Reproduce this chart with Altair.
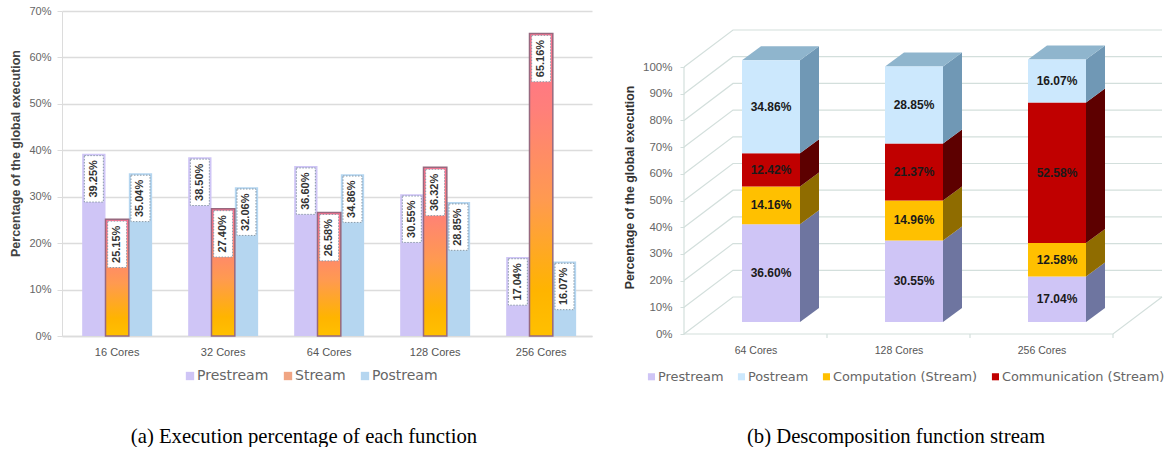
import altair as alt
import pandas as pd

# Panel (a): share of each function per core count
cores_a = ["16 Cores", "32 Cores", "64 Cores", "128 Cores", "256 Cores"]
functions = ["Prestream", "Stream", "Postream"]
prestream = [39.25, 38.50, 36.60, 30.55, 17.04]
stream = [25.15, 27.40, 26.58, 36.32, 65.16]
postream = [35.04, 32.06, 34.86, 28.85, 16.07]

# Panel (b): stream split into computation and communication
cores_b = ["64 Cores", "128 Cores", "256 Cores"]
parts = ["Prestream", "Postream", "Computation (Stream)", "Communication (Stream)"]
stack_order = ["Prestream", "Computation (Stream)", "Communication (Stream)", "Postream"]
stack_values = {
    "Prestream": [36.60, 30.55, 17.04],
    "Computation (Stream)": [14.16, 14.96, 12.58],
    "Communication (Stream)": [12.42, 21.37, 52.58],
    "Postream": [34.86, 28.85, 16.07],
}
front_colors = {"Prestream": "#cfc5f6", "Postream": "#cce8fd",
                "Computation (Stream)": "#ffc000", "Communication (Stream)": "#c00000"}
side_colors = {"Prestream": "#6e75a0", "Postream": "#7098b5",
               "Computation (Stream)": "#8f6c00", "Communication (Stream)": "#5d0000"}
TOP_COLOR = "#8fb5cd"

GREY = "#666666"
GRID = "#dcdcdc"
WALL = "#d3dfdc"
SANS = "Liberation Sans"
SERIF = "Liberation Serif"
Y_TITLE = "Percentage of the global execution"

# ---------- panel (a) ----------
rows = []
for series, values in zip(functions, [prestream, stream, postream]):
    for core, v in zip(cores_a, values):
        rows.append({"core": core, "series": series, "value": v,
                     "label": f"{v:.2f}%", "box_top": v - 0.4, "box_bottom": v - 10.4,
                     "box_mid": v - 5.4})
df_a = pd.DataFrame(rows)

x_a = alt.X("core:N", sort=cores_a, title=None,
            scale=alt.Scale(paddingInner=0.34, paddingOuter=0.17, align=0.56),
            axis=alt.Axis(labelAngle=0, labelFont=SANS, labelFontSize=11, labelColor="#555555",
                          tickSize=0, domainColor=GRID, domainWidth=1.5, labelPadding=10))
x_off = alt.XOffset("series:N", sort=functions, scale=alt.Scale(domain=functions))
y_a = alt.Y("value:Q", title=Y_TITLE,
            scale=alt.Scale(domain=[0, 70]),
            axis=alt.Axis(values=list(range(0, 71, 10)), labelExpr="datum.value + '%'",
                          labelFont=SANS, labelFontSize=11, labelColor=GREY,
                          gridColor=GRID, gridWidth=1.5, domainColor=GRID, tickColor=GRID,
                          tickSize=5, labelPadding=6,
                          titleFont=SANS, titleFontSize=12.5, titleColor="#444444", titleFontWeight="bold",
                          titleY=142, titlePadding=6))

bars = alt.Chart(df_a).mark_bar().encode(
    x=x_a, xOffset=x_off, y=y_a,
    color=alt.Color("series:N", sort=functions,
                    scale=alt.Scale(domain=functions, range=["#cfc5f6", "#f0a583", "#b5d6f0"]),
                    legend=alt.Legend(title=None, orient="none", legendX=121, legendY=358,
                                      direction="horizontal", symbolType="square", symbolSize=70,
                                      labelFont="DejaVu Sans", labelFontSize=14, labelColor=GREY,
                                      columnPadding=12, labelOffset=0)),
)
stream_gradient = alt.Gradient(
    gradient="linear", x1=0, x2=0, y1=1, y2=0,
    stops=[alt.GradientStop(color="#ffc000", offset=0),
           alt.GradientStop(color="#ffb400", offset=0.15),
           alt.GradientStop(color="#ff9a50", offset=0.45),
           alt.GradientStop(color="#ff7f7a", offset=0.75),
           alt.GradientStop(color="#ff7090", offset=1)])
stream_bars = alt.Chart(df_a[df_a.series == "Stream"]).mark_bar(
    color=stream_gradient, stroke="#97697f", strokeWidth=1.5).encode(x=x_a, xOffset=x_off, y=y_a)
boxes = alt.Chart(df_a).mark_bar(size=19, fill="white", stroke="#8a9aa8", strokeWidth=1,
                                 strokeDash=[1.5, 1.5]).encode(
    x=x_a, xOffset=x_off, y=alt.Y("box_top:Q"), y2="box_bottom:Q")
labels = alt.Chart(df_a).mark_text(angle=270, font=SANS, fontSize=11, fontWeight="bold",
                                   color="#333333").encode(
    x=x_a, xOffset=x_off, y=alt.Y("box_mid:Q"), text="label:N")

panel_a = alt.layer(bars, stream_bars, boxes, labels).properties(
    width=530, height=325,
    title=alt.TitleParams("(a) Execution percentage of each function", orient="bottom",
                          font=SERIF, fontSize=20.7, fontWeight="normal", color="black",
                          anchor="middle", dx=-23, offset=44))

# ---------- panel (b): drawn as sheared faces on two linear scales ----------
PX_PER_PCT = 2.67
BAND = 143
BAR_W = 58
SHIFT_X, SHIFT_Y = 15.5, 12 / PX_PER_PCT
DEPTH_X, DEPTH_Y = 19, 14 / PX_PER_PCT
WALL_X, WALL_Y = 49, 37 / PX_PER_PCT
FLOOR_W = 3 * BAND
PANEL_W = FLOOR_W + WALL_X
PANEL_H = 323
TOP_PCT = PANEL_H / PX_PER_PCT

front, sides, tops = [], [], []
for i, core in enumerate(cores_b):
    left = (i + 0.5) * BAND - BAR_W / 2 + SHIFT_X
    right = left + BAR_W
    base = 0.0
    for part in stack_order:
        v = stack_values[part][i]
        lo, hi = base + SHIFT_Y, base + v + SHIFT_Y
        front.append({"x": left, "x2": right, "y": lo, "y2": hi, "part": part,
                      "mid_x": (left + right) / 2, "mid_y": (lo + hi) / 2, "label": f"{v:.2f}%"})
        key = f"{core}-{part}"
        sides.append({"x": right, "y": lo, "y2": hi, "key": key, "fill": side_colors[part]})
        sides.append({"x": right + DEPTH_X, "y": lo + DEPTH_Y, "y2": hi + DEPTH_Y, "key": key,
                      "fill": side_colors[part]})
        base += v
    t = base + SHIFT_Y
    tops += [{"x": left, "y": t, "y2": t, "key": core},
             {"x": left + DEPTH_X, "y": t + DEPTH_Y, "y2": t, "key": core},
             {"x": right, "y": t + DEPTH_Y, "y2": t, "key": core},
             {"x": right + DEPTH_X, "y": t + DEPTH_Y, "y2": t + DEPTH_Y, "key": core}]
df_front, df_sides, df_tops = pd.DataFrame(front), pd.DataFrame(sides), pd.DataFrame(tops)

frame = []
for p in range(0, 101, 10):
    frame += [{"x": 0, "y": p, "key": f"side{p}", "step": 0},
              {"x": WALL_X, "y": p + WALL_Y, "key": f"side{p}", "step": 1},
              {"x": PANEL_W, "y": p + WALL_Y, "key": f"side{p}", "step": 2}]
frame += [{"x": 0, "y": 0, "key": "axis", "step": 0},
          {"x": 0, "y": 100, "key": "axis", "step": 1},
          {"x": 0, "y": 0, "key": "floor", "step": 0},
          {"x": FLOOR_W, "y": 0, "key": "floor", "step": 1},
          {"x": PANEL_W, "y": WALL_Y, "key": "floor", "step": 2}]
for i in range(1, 4):
    frame += [{"x": BAND * i, "y": 0, "key": f"tick{i}", "step": 0},
              {"x": BAND * i, "y": -1.5, "key": f"tick{i}", "step": 1}]
df_frame = pd.DataFrame(frame)

x_scale = alt.Scale(domain=[0, PANEL_W], nice=False, zero=False)
y_scale = alt.Scale(domain=[0, TOP_PCT], nice=False)
centers = [(i + 0.5) * BAND for i in range(3)]
label_expr = " : ".join(f"datum.value == {c} ? '{n}'" for c, n in zip(centers, cores_b)) + " : ''"
x_axis = alt.Axis(values=centers, labelExpr=label_expr, grid=False, ticks=False, domain=False,
                  labelFont=SANS, labelFontSize=10.5, labelColor="#555555", labelPadding=11)
y_axis = alt.Axis(values=list(range(0, 101, 10)), labelExpr="datum.value + '%'", grid=False,
                  domain=False, tickColor=WALL, tickSize=4, labelFont=SANS, labelFontSize=11.5,
                  labelColor=GREY, labelPadding=8, labelOverlap=False,
                  titleFont=SANS, titleFontSize=12.3, titleFontWeight="bold", titleColor="#333333",
                  titleY=176, titlePadding=6)
x_b = alt.X("x:Q", title=None, scale=x_scale, axis=x_axis)
y_b = alt.Y("y:Q", title=Y_TITLE, scale=y_scale, stack=None, axis=y_axis)

lines = alt.Chart(df_frame).mark_line(color=WALL, strokeWidth=1.2).encode(
    x=x_b, y=y_b, detail="key:N", order="step:Q")
fronts = alt.Chart(df_front).mark_rect().encode(
    x=x_b, x2="x2:Q", y=y_b, y2="y2:Q",
    color=alt.Color("part:N", sort=parts,
                    scale=alt.Scale(domain=parts, range=[front_colors[p] for p in parts]),
                    legend=alt.Legend(title=None, orient="none", legendX=-39, legendY=359,
                                      direction="horizontal", symbolType="square", symbolSize=50,
                                      labelFont="DejaVu Sans", labelFontSize=12.9, labelColor=GREY,
                                      labelLimit=300, columnPadding=11, labelOffset=0)))
side_faces = alt.Chart(df_sides).mark_area(orient="vertical").encode(
    x=x_b, y=y_b, y2="y2:Q", detail="key:N", fill=alt.Fill("fill:N", scale=None))
top_faces = alt.Chart(df_tops).mark_area(orient="vertical", color=TOP_COLOR).encode(
    x=x_b, y=y_b, y2="y2:Q", detail="key:N")
stack_labels = alt.Chart(df_front).mark_text(font=SANS, fontSize=12, fontWeight="bold", color="#1a1a1a").encode(
    x=alt.X("mid_x:Q", title=None, scale=x_scale, axis=x_axis),
    y=alt.Y("mid_y:Q", title=Y_TITLE, scale=y_scale, axis=y_axis), text="label:N")

panel_b = alt.layer(lines, side_faces, top_faces, fronts, stack_labels).properties(
    width=PANEL_W, height=PANEL_H,
    title=alt.TitleParams("(b) Descomposition function stream", orient="bottom",
                          font=SERIF, fontSize=20.7, fontWeight="normal", color="black",
                          anchor="middle", dx=-27, offset=43))

chart = alt.hconcat(panel_a, panel_b, spacing=31).resolve_scale(color="independent").properties(
    padding={"left": 9, "top": 5, "right": 0, "bottom": 0}, background="white"
).configure_view(stroke=None)

chart.save("out.html", embed_options={"renderer": "svg", "actions": False})
